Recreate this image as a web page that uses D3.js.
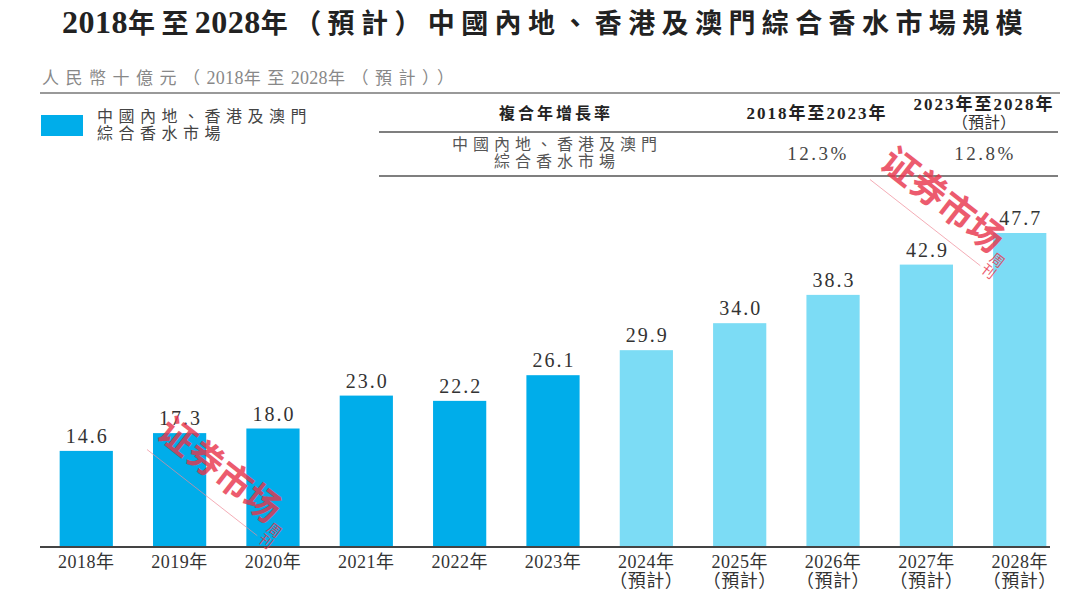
<!DOCTYPE html>
<html><head><meta charset="utf-8">
<script src="https://cdn.jsdelivr.net/npm/d3@7/dist/d3.min.js"></script>
<style>
html,body{margin:0;padding:0;background:#fff;}
svg{display:block;}
</style></head>
<body>
<svg id="chart" width="1080" height="601"></svg>
<script>
const years = ["2018年","2019年","2020年","2021年","2022年","2023年","2024年","2025年","2026年","2027年","2028年"];
const values = [14.6,17.3,18.0,23.0,22.2,26.1,29.9,34.0,38.3,42.9,47.7];
const forecast = [false,false,false,false,false,false,true,true,true,true,true];
const cagrHeaders = ["複合年增長率","2018年至2023年","2023年至2028年"];
const cagrValues = ["12.3%","12.8%"];
const seriesName = ["中國內地、香港及澳門","綜合香水市場"];
const titleText = "2018年至2028年（預計）中國內地、香港及澳門綜合香水市場規模";
const subtitleText = "人民幣十億元（2018年至2028年（預計））";

const svg = d3.select("#chart");
const SERIF = "'Liberation Serif','Noto Sans CJK TC',serif";
const CJK = "'Liberation Serif','Noto Sans CJK TC',sans-serif";
const dark = "#00adea", light = "#7cdcf5";

// write text with separate size/spacing for ASCII and CJK runs
function mixed(textSel, str, cjkSp, asciiSp, asciiSize){
  const runs = str.match(/[\x00-\x7F]+|[^\x00-\x7F]+/g);
  runs.forEach(r=>{
    const ascii = /^[\x00-\x7F]/.test(r);
    const ts = textSel.append("tspan").style("letter-spacing",(ascii?asciiSp:cjkSp)+"px").text(r);
    if(ascii && asciiSize) ts.style("font-size",asciiSize+"px");
  });
}

// Title
const tt = svg.append("text").attr("x",62).attr("y",33)
  .style("font-family",CJK).style("font-weight","bold").style("font-size","27px").style("fill","#222");
mixed(tt, titleText, 6.4, 0.5, 32);

// Subtitle
const st = svg.append("text").attr("x",42).attr("y",84)
  .style("font-family",CJK).style("font-size","17px").style("fill","#888");
mixed(st, subtitleText, 6.5, 0.3, 18);
svg.append("line").attr("x1",40).attr("x2",1060).attr("y1",93).attr("y2",93)
  .style("stroke","#777").style("stroke-width",1.5);

// Legend
svg.append("rect").attr("x",41).attr("y",115).attr("width",42).attr("height",21).style("fill",dark);
seriesName.forEach((t,i)=>{
  svg.append("text").attr("x",97).attr("y",122+i*17).style("font-family",CJK)
    .style("font-size","16px").style("fill","#444").style("letter-spacing","5.5px").text(t);
});

// CAGR table
svg.append("text").attr("x",556).attr("y",119).attr("text-anchor","middle")
  .style("font-family",CJK).style("font-weight","bold").style("font-size","16px").style("fill","#222")
  .style("letter-spacing","3px").text(cagrHeaders[0]);
svg.append("text").attr("x",817).attr("y",119).attr("text-anchor","middle")
  .style("font-family",CJK).style("font-weight","bold").style("font-size","17px").style("fill","#222")
  .style("letter-spacing","2px").text(cagrHeaders[1]);
svg.append("text").attr("x",984).attr("y",110).attr("text-anchor","middle")
  .style("font-family",CJK).style("font-weight","bold").style("font-size","17px").style("fill","#222")
  .style("letter-spacing","2px").text(cagrHeaders[2]);
svg.append("text").attr("x",984).attr("y",128).attr("text-anchor","middle")
  .style("font-family",CJK).style("font-size","16px").style("fill","#333")
  .text("（預計）");
svg.append("line").attr("x1",379).attr("x2",1058).attr("y1",132).attr("y2",132).style("stroke","#555").style("stroke-width",1.5);
seriesName.forEach((t,i)=>{
  svg.append("text").attr("x",557).attr("y",150+i*17).attr("text-anchor","middle")
    .style("font-family",CJK).style("font-size","16px").style("fill","#555").style("letter-spacing","5px").text(t);
});
cagrValues.forEach((v,i)=>{
  svg.append("text").attr("x",i?985:818).attr("y",160).attr("text-anchor","middle")
    .style("font-family",SERIF).style("font-size","19px").style("fill","#444").style("letter-spacing","2.5px").text(v);
});
svg.append("line").attr("x1",379).attr("x2",1058).attr("y1",176).attr("y2",176).style("stroke","#555").style("stroke-width",1.5);

// Scales
const x = d3.scaleBand().domain(years).range([41,1065]).paddingInner(0.43).paddingOuter(0.2);
const y = d3.scaleLinear().domain([0,47.7]).range([547,233]);

svg.selectAll("rect.bar").data(values).enter().append("rect").attr("class","bar")
  .attr("x",(d,i)=>x(years[i])).attr("width",x.bandwidth())
  .attr("y",d=>y(d)).attr("height",d=>y(0)-y(d))
  .style("fill",(d,i)=>forecast[i]?light:dark);

svg.selectAll("text.val").data(values).enter().append("text").attr("class","val")
  .attr("x",(d,i)=>x(years[i])+x.bandwidth()/2+1).attr("y",d=>y(d)-8)
  .attr("text-anchor","middle").style("font-family",SERIF).style("font-size","20px")
  .style("fill","#333").style("letter-spacing","2px").text(d=>d.toFixed(1));

// Axis
const axis = d3.axisBottom(x).tickSize(0).tickPadding(0);
const g = svg.append("g").attr("transform","translate(0,547)").call(axis);
g.select(".domain").attr("d","M40,0H1050").style("stroke","#444").style("stroke-width",2);
g.selectAll(".tick text").remove();
g.selectAll(".tick").each(function(d,i){
  const t = d3.select(this).append("text").attr("text-anchor","middle")
    .style("font-family",SERIF).style("font-size","18px").style("fill","#333").style("letter-spacing","0.5px");
  t.append("tspan").attr("x",0).attr("y",21).text(d);
  if(forecast[i]) t.append("tspan").attr("x",0).attr("y",40).text("（預計）");
});

// Watermarks
function stamp(cx,cy){
  const w = svg.append("g").attr("transform",`translate(${cx},${cy}) rotate(38)`).style("opacity",0.8);
  w.append("text").attr("x",0).attr("y",0).attr("text-anchor","middle")
    .style("font-family","'Noto Sans CJK SC'").style("font-weight","bold").style("font-size","36px")
    .style("fill","#e8334a").text("证券市场");
  w.append("text").attr("x",80).attr("y",-6).style("font-family","'Noto Sans CJK SC'").style("font-size","14px")
    .style("fill","#e8334a").attr("writing-mode","tb").text("周刊");
  w.append("line").attr("x1",-70).attr("x2",70).attr("y1",16).attr("y2",16).style("stroke","#f08a98").style("stroke-width",0.8);
}
stamp(212,480);
stamp(935,210);
</script>
</body></html>
